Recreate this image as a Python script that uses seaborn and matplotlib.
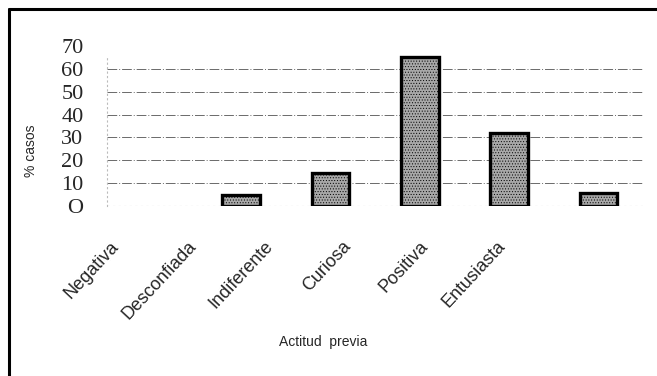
import matplotlib
matplotlib.use("Agg")
import matplotlib.pyplot as plt
import matplotlib.transforms as mtransforms
from matplotlib.lines import Line2D
import seaborn as sns
import pandas as pd

categories = ["Negativa", "Desconfiada", "Indiferente", "Curiosa", "Positiva", "Entusiasta"]
values = [0, 5, 14.5, 65, 32, 5.5]
ytick_values = [0, 10, 20, 30, 40, 50, 60, 70]
ytick_labels = ["O", "10", "20", "30", "40", "50", "60", "70"]

df = pd.DataFrame({"Actitud previa": categories, "% casos": values})

sns.set_style("white")
plt.rcParams["hatch.color"] = "#7a7a7a"
plt.rcParams["hatch.linewidth"] = 0.4
fig = plt.figure(figsize=(6.57, 3.76), dpi=100)
ax = fig.add_axes([0.163, 0.452, 0.816, 0.426])

sns.barplot(data=df, x="Actitud previa", y="% casos", ax=ax, color="#a8a8a8",
            width=0.42, edgecolor="black", linewidth=2.4, saturation=1)
for p, v in zip(ax.patches, values):
    if v == 0:
        p.set_visible(False)
    else:
        p.set_hatch("......")
        p.set_edgecolor("black")

ax.set_ylim(0, 70)
ax.set_xlim(-0.5, 5.5)
ax.set_yticks(ytick_values)
ax.set_yticklabels(ytick_labels, fontfamily="Liberation Serif", fontsize=16)
ax.tick_params(axis="y", length=0, pad=17)
for y in ytick_values[1:-1]:
    ax.axhline(y, color="#6a6a6a", lw=0.7, ls=(0, (10, 2, 1, 2)), zorder=0)
ax.axhline(0, color="#aaaaaa", lw=0.8, ls=(0, (2, 3)), zorder=0)

for s in ["top", "right", "bottom"]:
    ax.spines[s].set_visible(False)
ax.spines["left"].set_color("#bbbbbb")
ax.spines["left"].set_linestyle((0, (1, 3)))
ax.spines["left"].set_linewidth(0.8)
ax.spines["left"].set_bounds(0, 65)

ax.set_xticks(range(len(categories)))
ax.set_xticklabels(categories, rotation=47, ha="right", va="top",
                   rotation_mode="anchor", fontfamily="Liberation Sans", fontsize=13)
ax.tick_params(axis="x", length=0, pad=23)
for i, lbl in enumerate(ax.get_xticklabels()):
    off = (-42 - 12 * i) / 100.0
    lbl.set_transform(lbl.get_transform() + mtransforms.ScaledTranslation(off, 0, fig.dpi_scale_trans))

ax.set_xlabel("")
ax.set_ylabel("")
fig.text(0.492, 0.09, "Actitud  previa", ha="center", va="center",
         fontfamily="Liberation Sans", fontsize=10)
fig.text(0.047, 0.60, "% casos", ha="center", va="center", rotation=90,
         fontfamily="Liberation Sans", fontsize=10)

fig.add_artist(Line2D([9 / 657, 9 / 657], [0, 1 - 9 / 376], color="black", lw=2.2,
                      transform=fig.transFigure))
fig.add_artist(Line2D([9 / 657, 1], [1 - 9 / 376, 1 - 9 / 376], color="black", lw=2.2,
                      transform=fig.transFigure))

fig.savefig("out.png", dpi=100)
